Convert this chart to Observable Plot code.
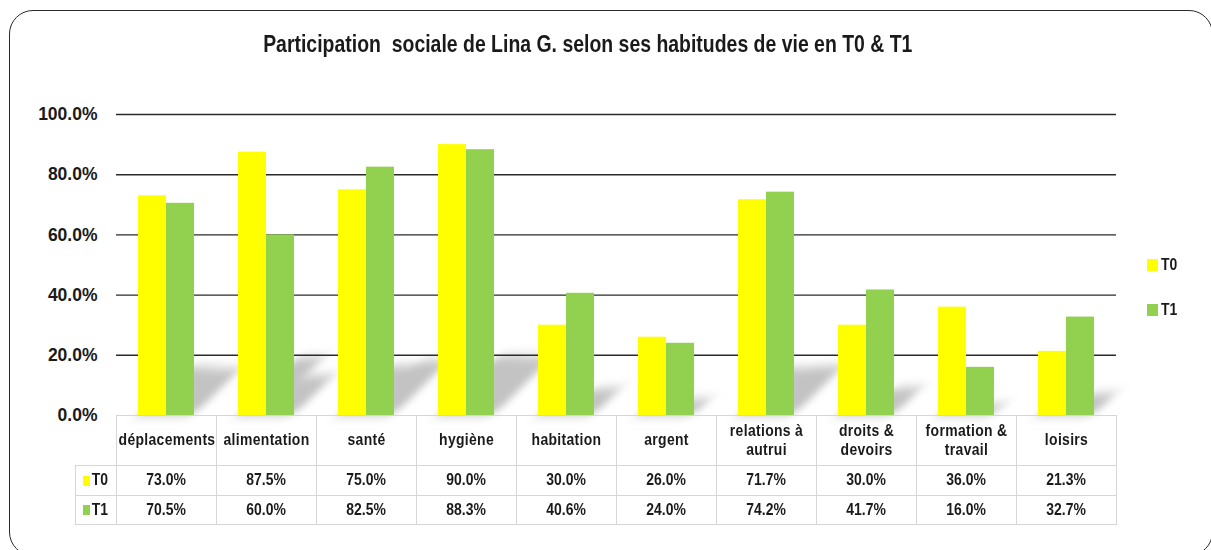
<!DOCTYPE html>
<html><head><meta charset="utf-8">
<script src="https://cdn.jsdelivr.net/npm/d3@7"></script>
<script src="https://cdn.jsdelivr.net/npm/@observablehq/plot@0.6"></script>
<style>
html,body{margin:0;padding:0;background:#fff;overflow:hidden;}
#wrap{position:relative;width:1211px;height:550px;overflow:hidden;font-family:"Liberation Sans",Arial,sans-serif;color:#1a1a1a;}
#frame{position:absolute;left:9px;top:10px;width:1204px;height:546px;border:1.5px solid #2a2a2a;border-radius:24px;box-sizing:border-box;}
#title{position:absolute;left:0;top:30px;width:1176px;text-align:center;font-size:24px;font-weight:bold;white-space:pre;}
#title span{display:inline-block;transform:scaleX(0.81);}
#chart{position:absolute;left:0;top:0;}
.cell{position:absolute;box-sizing:border-box;border:1px solid #d6d6d6;display:flex;align-items:center;justify-content:center;text-align:center;font-weight:bold;line-height:1.08;}
.cell .t{display:inline-block;transform:scaleX(0.82);flex:none;}
.hdr{font-size:17px;letter-spacing:0.4px;}
.val{font-size:17px;}
.leg{position:absolute;font-weight:bold;font-size:17px;display:flex;align-items:center;}
.leg .t{display:inline-block;transform:scaleX(0.82);transform-origin:left center;}
.sw{display:inline-block;width:11px;height:12px;margin-right:3px;}
.sws{display:inline-block;width:7px;height:10px;margin-right:3px;}
</style>
</head><body>
<div id="wrap">
  <div id="frame"></div>
  <div id="chart"></div>
  <div id="title"></div>
</div>
<script>
const title = "Participation  sociale de Lina G. selon ses habitudes de vie en T0 & T1";
const categories = ["déplacements","alimentation","santé","hygiène","habitation","argent","relations à autrui","droits & devoirs","formation & travail","loisirs"];
const series = ["T0","T1"];
const valuesT0 = [73.0, 87.5, 75.0, 90.0, 30.0, 26.0, 71.7, 30.0, 36.0, 21.3];
const valuesT1 = [70.5, 60.0, 82.5, 88.3, 40.6, 24.0, 74.2, 41.7, 16.0, 32.7];
const colors = ["#FFFF00", "#92D050"];
const shadowColor = "#c3c3c4";
const yTicks = [0, 20, 40, 60, 80, 100];

const data = [];
categories.forEach((c, i) => {
  data.push({cat: c, s: "T0", v: valuesT0[i]});
  data.push({cat: c, s: "T1", v: valuesT1[i]});
});

const tspan = document.createElement("span");
tspan.textContent = title;
document.getElementById("title").appendChild(tspan);

const W = 1211, H = 550;
const plot = Plot.plot({
  width: W, height: H,
  marginLeft: 114, marginRight: 93, marginTop: 114, marginBottom: 135,
  style: {background: "transparent", fontFamily: "'Liberation Sans', Arial, sans-serif", color: "#1a1a1a"},
  fx: {domain: categories, padding: 0, axis: null, label: null},
  x: {domain: series, paddingInner: 0, paddingOuter: 0.76, axis: null, label: null},
  y: {domain: [0, 100], ticks: yTicks, tickFormat: d => d.toFixed(1) + "%", tickSize: 0, tickPadding: 19, label: null},
  color: {domain: series, range: colors},
  marks: [
    Plot.barY(data, {fx: "cat", x: "s", y: d => d.v * 0.22, fill: shadowColor}),
    Plot.ruleY(yTicks.filter(t => t > 0), {stroke: "#2b2b2b", strokeWidth: 1.4}),
    Plot.barY(data, {fx: "cat", x: "s", y: "v", fill: "s"})
  ]
});

d3.select(plot).selectAll("[aria-label='y-axis tick label'] text, [aria-label='y-axis tick label']")
  .attr("font-size", 17.5).attr("font-weight", "bold");

// shadows: skew the shadow bars about the baseline and blur them
const y0 = plot.scale("y").apply(0);
const svg = d3.select(plot);
const defs = svg.insert("defs", ":first-child");
const f = defs.append("filter").attr("id", "shblur")
  .attr("filterUnits", "userSpaceOnUse").attr("x", 0).attr("y", 0).attr("width", W).attr("height", H);
f.append("feGaussianBlur").attr("stdDeviation", 5.5);
svg.selectAll("g").filter(function() {
  const fl = (this.getAttribute("fill") || "").toLowerCase();
  return fl === shadowColor;
}).each(function() {
  const old = this.getAttribute("transform") || "";
  this.setAttribute("transform", `translate(0,${y0}) skewX(-45) translate(0,${-y0}) ${old}`);
  this.setAttribute("filter", "url(#shblur)");
});

document.getElementById("chart").appendChild(plot);

const wrap = document.getElementById("wrap");
const fx = plot.scale("fx");
const step = fx.step || fx.bandwidth;
const hdrH = 50, rowH = 30;
const left0 = fx.apply(categories[0]);
function cell(x, y, w, h, cls, text, innerW) {
  const d = document.createElement("div");
  d.className = "cell " + cls;
  d.style.left = x + "px"; d.style.top = y + "px";
  d.style.width = w + "px"; d.style.height = h + "px";
  const s = document.createElement("span");
  s.className = "t";
  if (innerW) s.style.width = innerW + "px";
  s.textContent = text;
  d.appendChild(s);
  wrap.appendChild(d);
  return d;
}
categories.forEach((c, i) => {
  const x = fx.apply(c);
  cell(x, y0, step + 1, hdrH + 1, "hdr", c, (step - 4) / 0.82);
  cell(x, y0 + hdrH, step + 1, rowH + 1, "val", valuesT0[i].toFixed(1) + "%");
  cell(x, y0 + hdrH + rowH, step + 1, rowH, "val", valuesT1[i].toFixed(1) + "%");
});
series.forEach((s, k) => {
  const d = cell(left0 - 41, y0 + hdrH + k * rowH, 42, rowH + (k === 0 ? 1 : 0), "val", "");
  d.innerHTML = `<span class="sws" style="background:${colors[k]}"></span><span class="t" style="margin-left:-3px">${s}</span>`;
});

const legTops = [259, 304];
series.forEach((s, k) => {
  const d = document.createElement("div");
  d.className = "leg";
  d.style.left = "1147px"; d.style.top = (legTops[k] - 4) + "px";
  d.innerHTML = `<span class="sw" style="background:${colors[k]}"></span><span class="t">${s}</span>`;
  wrap.appendChild(d);
});
</script>
</body></html>
